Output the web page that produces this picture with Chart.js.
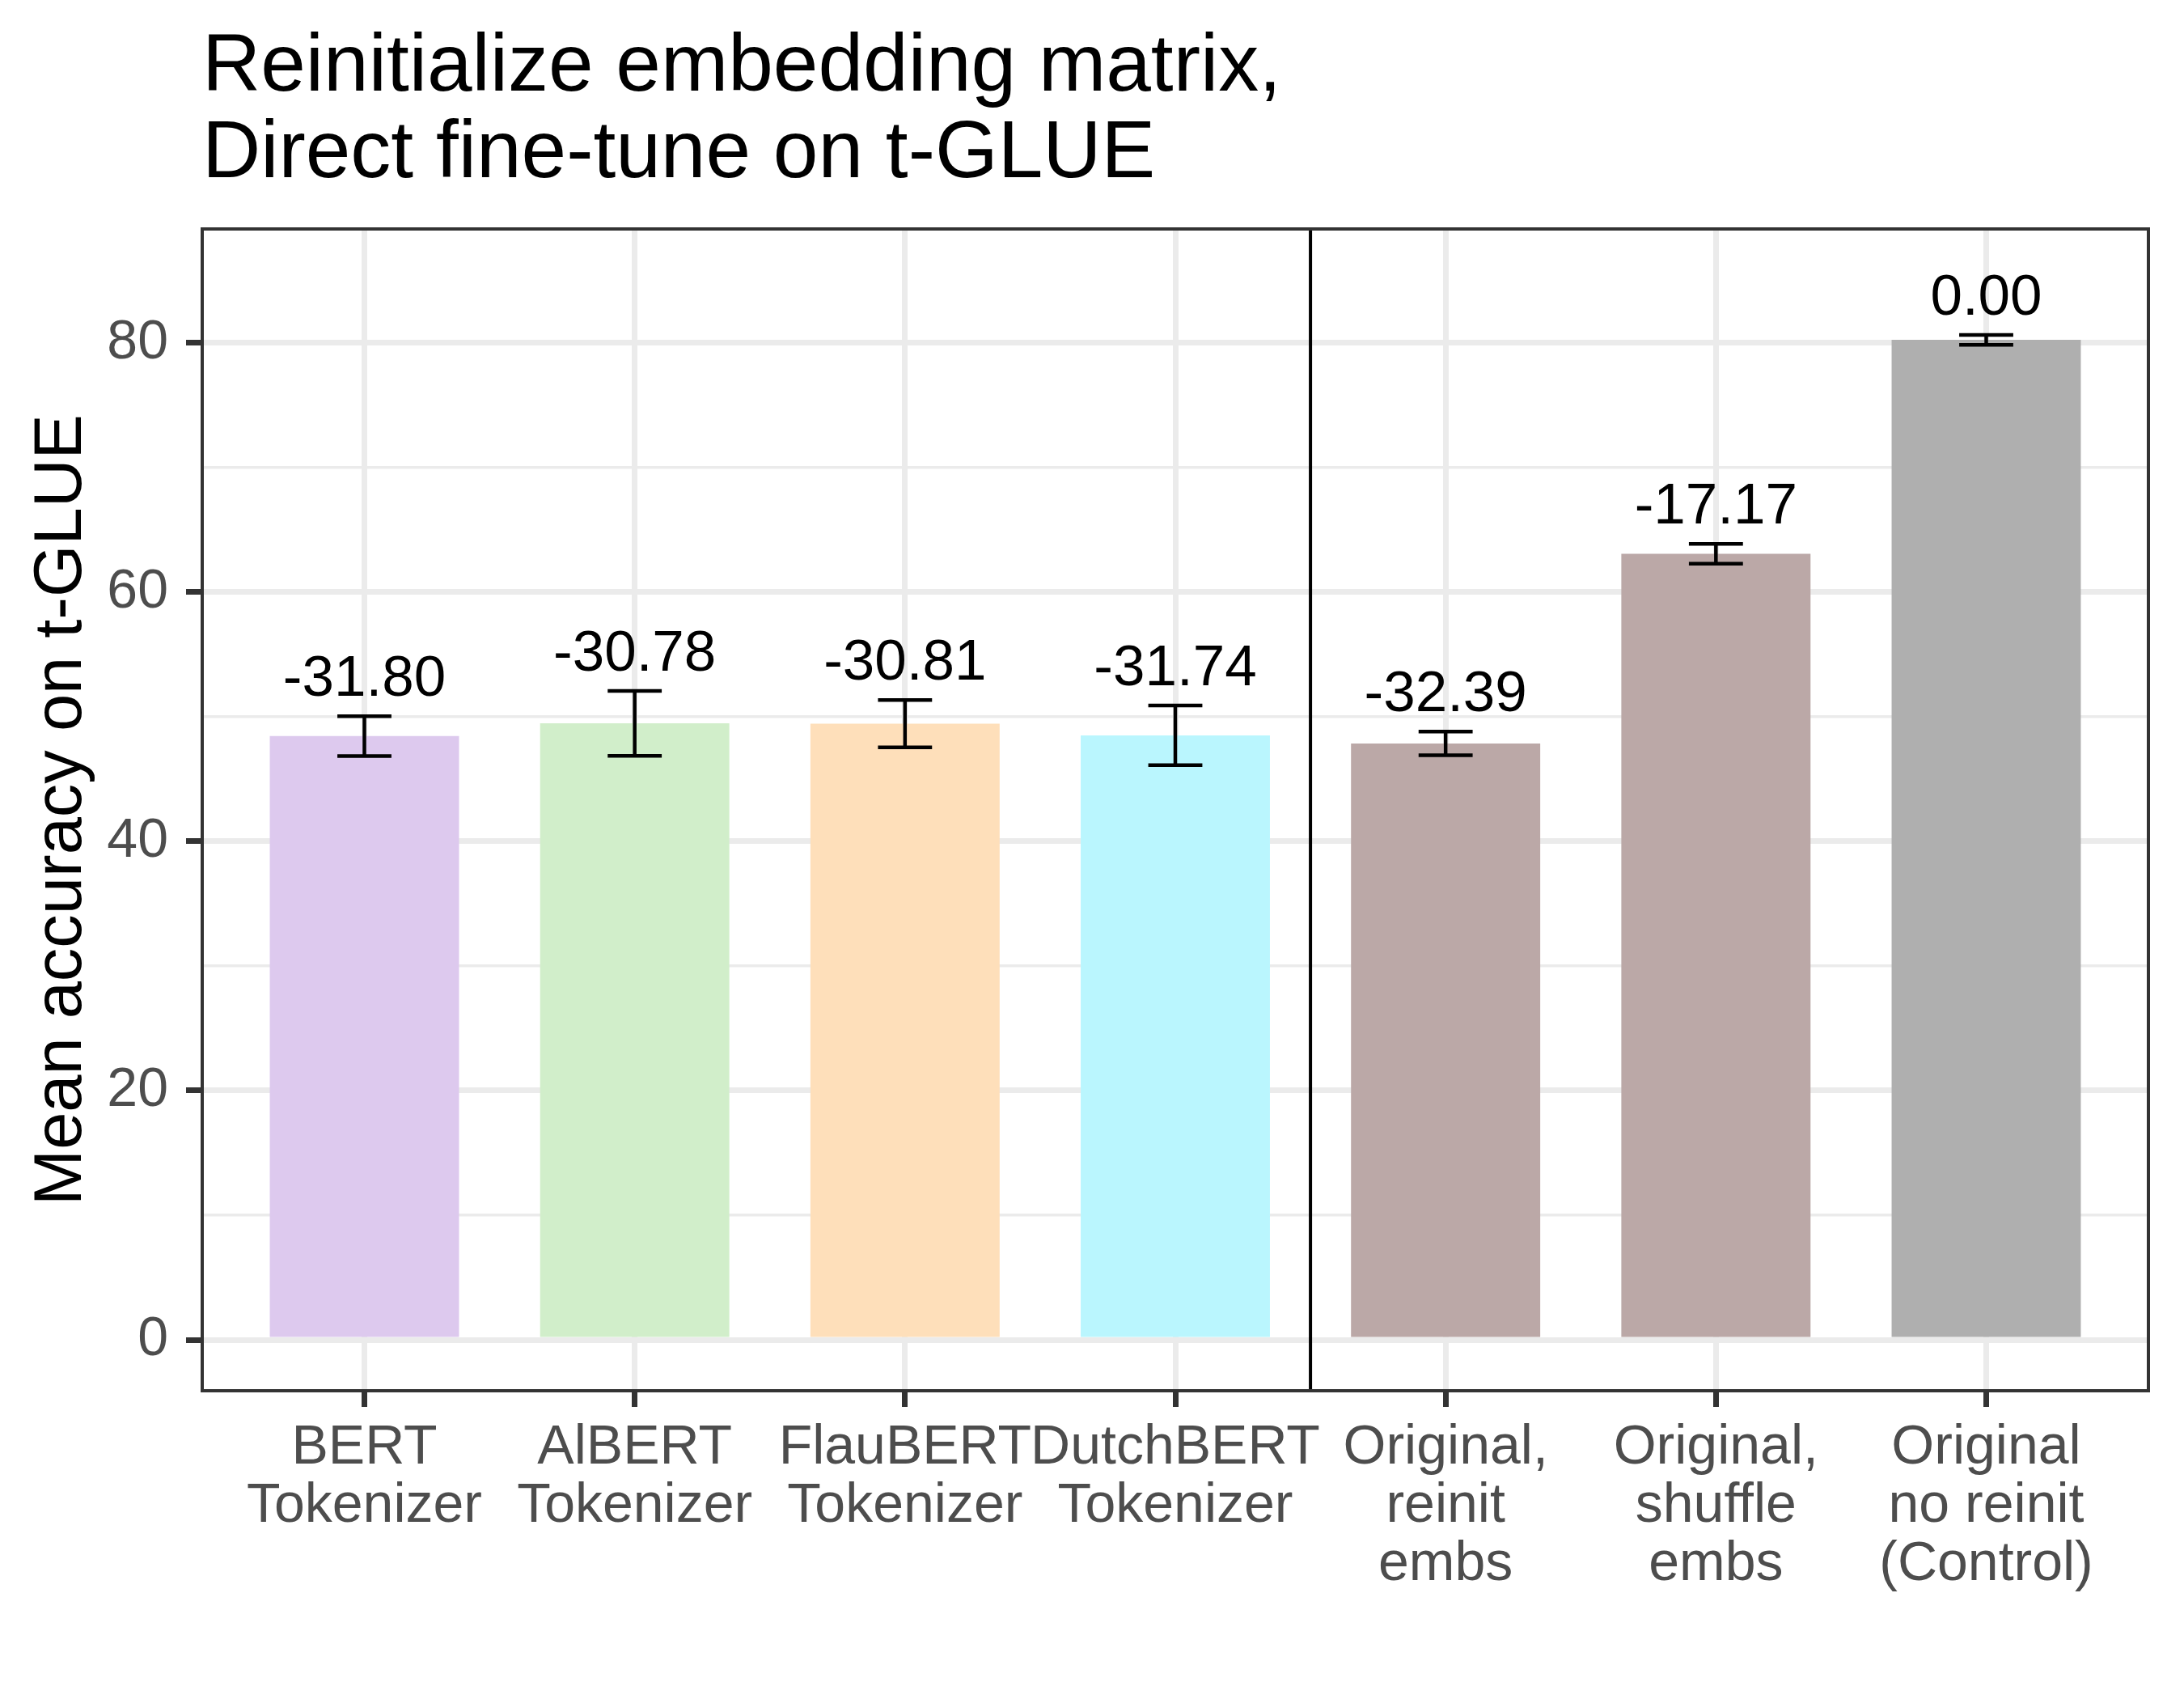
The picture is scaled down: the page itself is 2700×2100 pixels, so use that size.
<!DOCTYPE html>
<html>
<head>
<meta charset="utf-8">
<script src="https://cdn.jsdelivr.net/npm/chart.js@4.4.1/dist/chart.umd.min.js"></script>
<style>
  html, body { margin: 0; padding: 0; background: #fff; }
  canvas { display: block; }
</style>
</head>
<body>
<canvas id="chart" width="2700" height="2100"></canvas>
<script>
const categories = [
  ['BERT', 'Tokenizer'],
  ['AlBERT', 'Tokenizer'],
  ['FlauBERT', 'Tokenizer'],
  ['DutchBERT', 'Tokenizer'],
  ['Original,', 'reinit', 'embs'],
  ['Original,', 'shuffle', 'embs'],
  ['Original', 'no reinit', '(Control)']
];
const means = [48.45, 49.47, 49.44, 48.51, 47.86, 63.08, 80.25];
const errors = [1.6, 2.6, 1.9, 2.4, 0.95, 0.8, 0.4];
const diffLabels = ['-31.80', '-30.78', '-30.81', '-31.74', '-32.39', '-17.17', '0.00'];
const barColors = ['#DDC9EE', '#D1EECA', '#FEDFBA', '#BAF6FE', '#BBA8A7', '#BBA8A7', '#AFAFAF'];
const yTicks = [0, 20, 40, 60, 80];
const yMinorTicks = [10, 30, 50, 70];
const separatorAt = 4.5;

const FONT = '"Liberation Sans", Arial, sans-serif';
const positions = categories.map((c, i) => i + 1);

// error bars, value labels, separator, panel border, titles
const decorations = {
  id: 'decorations',
  afterDatasetsDraw(chart) {
    const { ctx, scales: { x, y }, chartArea } = chart;
    ctx.save();
    ctx.strokeStyle = '#000';
    ctx.lineWidth = 4.5;
    means.forEach((m, i) => {
      const cx = x.getPixelForValue(positions[i]);
      const xl = x.getPixelForValue(positions[i] - 0.1);
      const xr = x.getPixelForValue(positions[i] + 0.1);
      const yt = y.getPixelForValue(m + errors[i]);
      const yb = y.getPixelForValue(m - errors[i]);
      ctx.beginPath();
      ctx.moveTo(xl, yt); ctx.lineTo(xr, yt);
      ctx.moveTo(cx, yt); ctx.lineTo(cx, yb);
      ctx.moveTo(xl, yb); ctx.lineTo(xr, yb);
      ctx.stroke();

      ctx.fillStyle = '#000';
      ctx.font = '71px ' + FONT;
      ctx.textAlign = 'center';
      ctx.textBaseline = 'alphabetic';
      ctx.fillText(diffLabels[i], cx, yt - 25);
    });

    const sx = x.getPixelForValue(separatorAt);
    ctx.lineWidth = 4;
    ctx.beginPath();
    ctx.moveTo(sx, chartArea.top);
    ctx.lineTo(sx, chartArea.bottom);
    ctx.stroke();
    ctx.restore();
  },
  afterDraw(chart) {
    const { ctx, chartArea } = chart;
    ctx.save();
    ctx.strokeStyle = '#333333';
    ctx.lineWidth = 4;
    ctx.strokeRect(chartArea.left, chartArea.top,
      chartArea.right - chartArea.left, chartArea.bottom - chartArea.top);

    ctx.fillStyle = '#000';
    ctx.textAlign = 'left';
    ctx.textBaseline = 'alphabetic';
    ctx.font = '100px ' + FONT;
    ctx.fillText('Reinitialize embedding matrix,', chartArea.left, 112);
    ctx.fillText('Direct fine-tune on t-GLUE', chartArea.left, 219);

    ctx.font = '83px ' + FONT;
    ctx.textAlign = 'center';
    ctx.translate(100, (chartArea.top + chartArea.bottom) / 2);
    ctx.rotate(-Math.PI / 2);
    ctx.fillText('Mean accuracy on t-GLUE', 0, 0);
    ctx.restore();
  }
};

new Chart(document.getElementById('chart'), {
  type: 'bar',
  data: {
    datasets: [{
      data: means.map((m, i) => ({ x: positions[i], y: m })),
      backgroundColor: barColors,
      borderWidth: 0,
      barPercentage: 0.7,
      categoryPercentage: 1.0
    }]
  },
  options: {
    responsive: false,
    devicePixelRatio: 1,
    animation: false,
    layout: { padding: { top: 283, right: 44, bottom: 0, left: 0 } },
    plugins: { legend: { display: false }, tooltip: { enabled: false }, title: { display: false } },
    scales: {
      x: {
        type: 'linear',
        offset: false,
        min: 0.4,
        max: 7.6,
        afterBuildTicks: s => { s.ticks = positions.map(v => ({ value: v })); },
        afterFit: s => { s.height = 381; },
        ticks: {
          autoSkip: false,
          maxRotation: 0,
          minRotation: 0,
          padding: 15,
          color: '#4D4D4D',
          font: { size: 68, family: FONT, lineHeight: 1.06 },
          callback: v => categories[v - 1]
        },
        grid: {
          offset: false,
          color: '#EBEBEB',
          lineWidth: 7,
          tickColor: '#333333',
          tickLength: 20,
          tickWidth: 7
        },
        border: { display: false }
      },
      y: {
        min: -4.09,
        max: 89.15,
        afterBuildTicks: s => {
          s.ticks = yTicks.concat(yMinorTicks).sort((a, b) => a - b).map(v => ({ value: v }));
        },
        afterFit: s => { s.width = 250; },
        ticks: {
          padding: 22,
          color: '#4D4D4D',
          font: { size: 68, family: FONT },
          callback: v => yTicks.includes(v) ? String(v) : ''
        },
        grid: {
          color: '#EBEBEB',
          lineWidth: c => (c.tick && yTicks.includes(c.tick.value)) ? 7 : 3.5,
          tickColor: c => (c.tick && yTicks.includes(c.tick.value)) ? '#333333' : 'rgba(0,0,0,0)',
          tickLength: 20,
          tickWidth: 7
        },
        border: { display: false }
      }
    }
  },
  plugins: [decorations]
});
</script>
</body>
</html>
